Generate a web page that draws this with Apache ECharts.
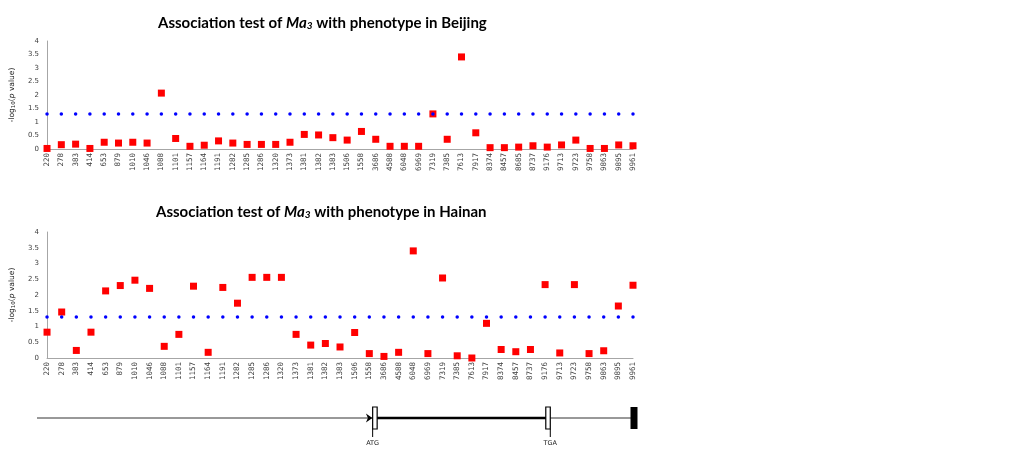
<!DOCTYPE html>
<html>
<head>
<meta charset="utf-8">
<script src="https://cdn.jsdelivr.net/npm/echarts@6/dist/echarts.min.js"></script>
<style>
  html, body { margin: 0; padding: 0; background: #fff; }
  #main { width: 1033px; height: 450px; }
</style>
</head>
<body>
<div id="main"></div>
<script>
// SNP positions tested in each environment
const beijingSites = ['220','278','383','414','653','879','1010','1046','1088','1101','1157','1164','1191','1282','1285','1286','1320','1373','1381','1382','1383','1506','1558','3686','4588','6048','6969','7319','7385','7613','7917','8374','8457','8685','8737','9176','9713','9723','9758','9863','9895','9961'];
const beijingP = [0.02,0.16,0.18,0.02,0.25,0.22,0.25,0.22,2.07,0.39,0.10,0.14,0.30,0.22,0.17,0.17,0.17,0.25,0.54,0.52,0.42,0.33,0.65,0.36,0.10,0.10,0.10,1.30,0.36,3.41,0.60,0.05,0.05,0.07,0.12,0.07,0.15,0.33,0.02,0.02,0.15,0.12];

const hainanSites = ['220','278','383','414','653','879','1010','1046','1088','1101','1157','1164','1191','1282','1285','1286','1320','1373','1381','1382','1383','1506','1558','3686','4588','6048','6969','7319','7385','7613','7917','8374','8457','8737','9176','9713','9723','9758','9863','9895','9961'];
const hainanP = [0.82,1.46,0.24,0.82,2.13,2.30,2.47,2.21,0.37,0.75,2.28,0.18,2.24,1.74,2.56,2.56,2.56,0.75,0.41,0.46,0.35,0.81,0.14,0.05,0.18,3.40,0.14,2.54,0.07,0.00,1.10,0.27,0.20,0.27,2.33,0.16,2.33,0.14,0.23,1.65,2.31];

// -log10(0.05)
const threshold = 1.3;
const yTicks = { min: 0, max: 4, interval: 0.5 };

// gene model, relative positions (0 = upstream start, 100 = end)
const geneModel = [0, 56.6, 85.6, 100];
const geneLabels = ['ATG', 'TGA'];

const chart = echarts.init(document.getElementById('main'));

const titleRich = {
    b: { fontFamily: 'Lato', fontWeight: 'bold', fontSize: 15, color: '#000' },
    i: { fontFamily: 'Lato', fontWeight: 'bold', fontStyle: 'italic', fontSize: 15, color: '#000' },
    s: { fontFamily: 'Lato', fontWeight: 'bold', fontStyle: 'italic', fontSize: 10, color: '#000', verticalAlign: 'bottom', padding: [6, 0, 0, 0] }
};

function yAxisSet(idx) {
    return {
        gridIndex: idx,
        type: 'value',
        min: yTicks.min, max: yTicks.max, interval: yTicks.interval,
        name: '-log{sub|10}({it|p} value)',
        nameLocation: 'middle',
        nameGap: 29,
        nameTextStyle: {
            fontFamily: 'DejaVu Sans', fontSize: 7.5, color: '#222',
            rich: {
                sub: { fontFamily: 'DejaVu Sans', fontSize: 5.5, color: '#222', verticalAlign: 'bottom', padding: [4, 0, 0, 0] },
                it: { fontFamily: 'DejaVu Sans', fontStyle: 'italic', fontSize: 7.5, color: '#222' }
            }
        },
        axisLine: { show: true, lineStyle: { color: '#a6a6a6', width: 1 } },
        axisTick: { show: false },
        splitLine: { show: false },
        axisLabel: { fontFamily: 'DejaVu Sans', fontSize: 7, color: '#404040', margin: 8 }
    };
}

function xAxisSet(idx, cats) {
    return {
        gridIndex: idx,
        type: 'category',
        data: cats,
        boundaryGap: false,
        axisLine: { show: true, lineStyle: { color: '#a6a6a6', width: 1 } },
        axisTick: { show: false },
        axisLabel: {
            interval: 0, rotate: 90, margin: 4,
            fontFamily: 'DejaVu Sans Mono', fontSize: 7.5, color: '#404040'
        }
    };
}

function pointSeries(idx, values) {
    return {
        type: 'scatter',
        xAxisIndex: idx, yAxisIndex: idx,
        data: values,
        symbol: 'rect',
        symbolSize: 7,
        itemStyle: { color: '#ff0000', opacity: 1 },
        z: 2
    };
}

function thresholdSeries(idx, cats) {
    return {
        type: 'scatter',
        xAxisIndex: idx, yAxisIndex: idx,
        data: cats.map(() => threshold),
        symbol: 'circle',
        symbolSize: 3.5,
        itemStyle: { color: '#0000ff', opacity: 1 },
        z: 3
    };
}

function renderGene(params, api) {
    const y = 0.5;
    const p0 = api.coord([api.value(0), y]);
    const pA = api.coord([api.value(1), y]);
    const pT = api.coord([api.value(2), y]);
    const pE = api.coord([api.value(3), y]);
    const h = 22, bw = 4.5, ew = 7;
    const top = p0[1] - h / 2, bot = p0[1] + h / 2;
    return {
        type: 'group',
        children: [
            { type: 'line', shape: { x1: p0[0], y1: p0[1], x2: pA[0], y2: pA[1] }, style: { stroke: '#333', lineWidth: 1 } },
            { type: 'line', shape: { x1: pA[0], y1: pA[1], x2: pT[0], y2: pT[1] }, style: { stroke: '#000', lineWidth: 2.5 } },
            { type: 'line', shape: { x1: pT[0], y1: pT[1], x2: pE[0], y2: pE[1] }, style: { stroke: '#333', lineWidth: 1 } },
            { type: 'polygon', shape: { points: [[pA[0] - 2.5, pA[1]], [pA[0] - 9, pA[1] - 4.5], [pA[0] - 7, pA[1]], [pA[0] - 9, pA[1] + 4.5]] }, style: { fill: '#000' } },
            { type: 'rect', shape: { x: pA[0] - bw / 2, y: top, width: bw, height: h }, style: { fill: '#fff', stroke: '#000', lineWidth: 1.2 } },
            { type: 'rect', shape: { x: pT[0] - bw / 2, y: top, width: bw, height: h }, style: { fill: '#fff', stroke: '#000', lineWidth: 1.2 } },
            { type: 'rect', shape: { x: pE[0] - ew / 2, y: top, width: ew, height: h }, style: { fill: '#000' } },
            { type: 'line', shape: { x1: pA[0] - bw / 2, y1: bot, x2: pA[0] - bw / 2, y2: bot + 8 }, style: { stroke: '#000', lineWidth: 1 } },
            { type: 'line', shape: { x1: pT[0] + bw / 2, y1: bot, x2: pT[0] + bw / 2, y2: bot + 8 }, style: { stroke: '#000', lineWidth: 1 } },
            { type: 'text', style: { x: pA[0] - bw / 2, y: bot + 14, text: geneLabels[0], align: 'center', verticalAlign: 'middle', fontFamily: 'DejaVu Sans', fontSize: 6.5, fill: '#222' } },
            { type: 'text', style: { x: pT[0] + bw / 2, y: bot + 14, text: geneLabels[1], align: 'center', verticalAlign: 'middle', fontFamily: 'DejaVu Sans', fontSize: 6.5, fill: '#222' } }
        ]
    };
}

const option = {
    backgroundColor: '#ffffff',
    animation: false,
    title: [
        { text: '{b|Association test of }{i|Ma}{s|3}{b| with phenotype in Beijing}', left: 153, top: 10, textStyle: { rich: titleRich } },
        { text: '{b|Association test of }{i|Ma}{s|3}{b| with phenotype in Hainan}', left: 151, top: 199, textStyle: { rich: titleRich } }
    ],
    grid: [
        { left: 43, top: 41, width: 590, height: 108 },
        { left: 43, top: 232, width: 590, height: 126 },
        { left: 37, top: 405, width: 597, height: 26 }
    ],
    xAxis: [
        xAxisSet(0, beijingSites),
        xAxisSet(1, hainanSites),
        { gridIndex: 2, type: 'value', min: 0, max: 100, show: false }
    ],
    yAxis: [
        yAxisSet(0),
        yAxisSet(1),
        { gridIndex: 2, type: 'value', min: 0, max: 1, show: false }
    ],
    series: [
        pointSeries(0, beijingP),
        thresholdSeries(0, beijingSites),
        pointSeries(1, hainanP),
        thresholdSeries(1, hainanSites),
        {
            type: 'custom',
            xAxisIndex: 2, yAxisIndex: 2,
            clip: false,
            silent: true,
            encode: { x: [0, 1, 2, 3], y: -1 },
            data: [geneModel],
            renderItem: renderGene
        }
    ]
};

chart.setOption(option);
</script>
</body>
</html>
